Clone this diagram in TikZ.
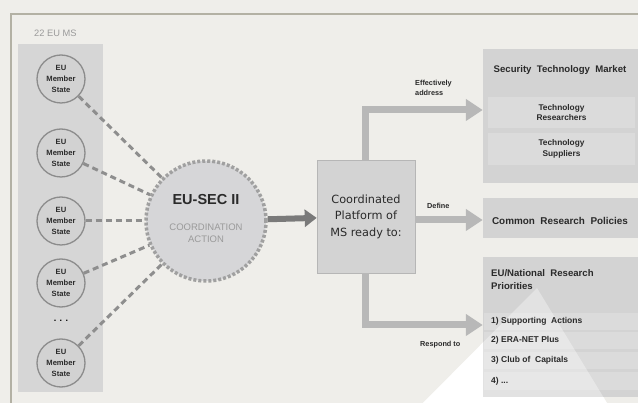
\documentclass[tikz,border=0pt]{standalone}
\usepackage{fontspec}
\setmainfont{Liberation Sans}
\newfontfamily\dvfont{DejaVu Sans}
\usetikzlibrary{arrows.meta}
\definecolor{bgc}{HTML}{EFEEEA}
\definecolor{framec}{HTML}{B3B1A4}
\definecolor{panelc}{HTML}{D6D6D6}
\definecolor{msfill}{HTML}{D2D2D2}
\definecolor{msline}{HTML}{8C8C8C}
\definecolor{dashc}{HTML}{8E8E8E}
\definecolor{secfill}{HTML}{D6D6D8}
\definecolor{secline}{HTML}{A0A0A0}
\definecolor{boxc}{HTML}{D3D3D3}
\definecolor{subc}{HTML}{DBDBDB}
\definecolor{darkarr}{HTML}{7A7A7A}
\definecolor{lightarr}{HTML}{B8B8B8}
\definecolor{graytxt}{HTML}{9A9A9A}
\definecolor{txtc}{HTML}{2A2A2A}
\tikzset{
  ms/.style={circle, draw=msline, line width=1.3pt, fill=msfill, minimum size=48pt, inner sep=0pt,
    align=center, text=txtc, font=\fontsize{7.6}{11}\selectfont\bfseries},
  msdash/.style={draw=dashc, line width=3pt, dash pattern=on 6pt off 4pt},
  rbox/.style={fill=boxc, draw=none, minimum width=160pt, inner sep=0pt},
  subbox/.style={fill=subc, draw=none, inner sep=0pt},
  larrow/.style={draw=lightarr, line width=7pt, -{Triangle[length=17pt,width=21pt]}},
  lab/.style={anchor=west, font=\fontsize{7.3}{9.5}\selectfont\bfseries, text=txtc, align=left, inner sep=0pt},
  boxtxt/.style={font=\fontsize{9.6}{11}\selectfont\bfseries, text=txtc, inner sep=0pt},
}
\begin{document}
\begin{tikzpicture}[x=1pt,y=-1pt]
\useasboundingbox (0,0) rectangle (638,403);
\fill[bgc] (0,0) rectangle (638,403);
\draw[framec, line width=1.6pt] (11,403) -- (11,14) -- (640,14);
% left panel
\fill[panelc] (18,44) rectangle (103,392);
\node[anchor=west, inner sep=0pt, text=graytxt, font=\fontsize{9.3}{11}\selectfont] (ms22) at (34,33) {22 EU MS};
\node[ms] (m1) at (61,79) {EU\\Member\\State};
\node[ms] (m2) at (61,153) {EU\\Member\\State};
\node[ms] (m3) at (61,221) {EU\\Member\\State};
\node[ms] (m4) at (61,283) {EU\\Member\\State};
\node[ms] (m5) at (61,363) {EU\\Member\\State};
\node[font=\fontsize{9}{10}\selectfont\bfseries, inner sep=0pt] (dots) at (61,321) {. . .};
% central coordination circle
\node[circle, fill=secfill, draw=secline, line width=3.5pt, dash pattern=on 3pt off 2pt, minimum size=120pt, inner sep=0pt] (sec) at (206,221) {};
\node[font=\fontsize{14.5}{17}\selectfont\bfseries, text=txtc, inner sep=0pt] (sectitle) at (206,200) {EU-SEC II};
\node[font=\fontsize{9.5}{12}\selectfont, text=graytxt, align=center, inner sep=0pt] (secsub) at (206,233) {COORDINATION\\ACTION};
\foreach \m in {m1,m2,m3,m4,m5} \draw[msdash] (\m) -- (sec);
% platform box
\node[fill=boxc, draw=panelc!85!black, line width=0.6pt, minimum width=98pt, minimum height=113pt, inner sep=0pt,
  align=center, text=txtc, font=\dvfont\fontsize{11.3}{16.5}\selectfont] (plat) at (366,216.5) {Coordinated\\Platform of\\MS ready to:};
\draw[draw=darkarr, line width=6pt, -{Triangle[length=12pt,width=17pt]}] (sec) -- (plat);
% right boxes
\node[rbox, minimum height=134pt] (stm) at (563,116) {};
\node[boxtxt] (stmt) at (560,70) {Security\ \ Technology\ \ Market};
\node[subbox, minimum width=147pt, minimum height=31pt, align=center, text=txtc, font=\fontsize{8.3}{10.5}\selectfont\bfseries] (res) at (561.5,112.5) {Technology\\Researchers};
\node[subbox, minimum width=147pt, minimum height=32pt, align=center, text=txtc, font=\fontsize{8.3}{10.5}\selectfont\bfseries] (sup) at (561.5,149) {Technology\\Suppliers};
\node[rbox, minimum height=40pt] (crp) at (563,218) {};
\node[boxtxt, font=\fontsize{9.9}{11}\selectfont\bfseries] (crpt) at (560,221) {Common\ \ Research\ \ Policies};
% white triangle (opaque on background)
\fill[white] (537,288) -- (607,403) -- (423,403) -- cycle;
\node[rbox, minimum height=140pt] (rp) at (563,327) {};
\foreach \ya/\yb in {313/330,332/349,352/369,372/390}{
  \fill[subc] (484,\ya) rectangle (640,\yb);
}
% light overlay of the triangle inside the box
\fill[white, opacity=0.35] (537,288) -- (607,403) -- (423,403) -- cycle;
\node[anchor=north west, align=left, inner sep=0pt, text=txtc, font=\fontsize{9.6}{13}\selectfont\bfseries] (rpt) at (491,269) {EU/National\ \ Research\\Priorities};
\foreach \i/\y/\t in {1/321.5/{1) Supporting\ \ Actions},2/340.5/{2) ERA-NET Plus},3/360.5/{3) Club of\ \ Capitals},4/381/{4) ...}}{
  \node[anchor=west, inner sep=0pt, text=txtc, font=\fontsize{8.5}{10}\selectfont\bfseries] (item\i) at (491,\y) {\t};
}
% arrows from platform
\coordinate (t1) at (365,110);
\coordinate (t3) at (365,325);
\draw[larrow] (plat.north -| t1) |- (stm.west |- t1);
\draw[larrow] (plat.east |- 0,220) -- (crp.west |- 0,220);
\draw[larrow] (plat.south -| t3) |- (rp.west |- t3);
\node[lab] (l1) at (415,88) {Effectively\\address};
\node[lab] (l2) at (427,206) {Define};
\node[lab] (l3) at (420,345) {Respond to};
\end{tikzpicture}
\end{document}
